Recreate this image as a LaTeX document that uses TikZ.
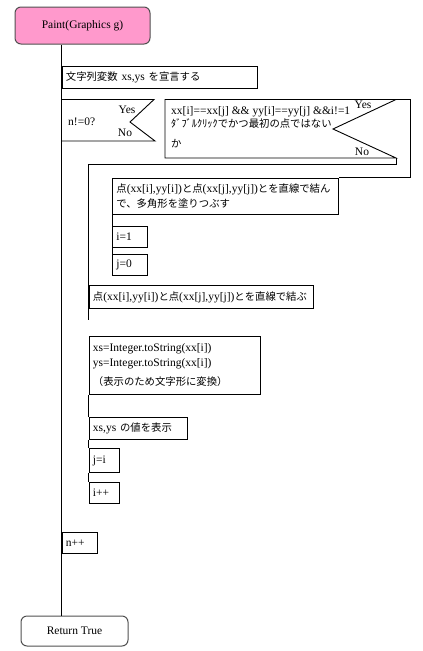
\documentclass[tikz,border=0pt]{standalone}
\usepackage{fontspec}
\setmainfont{Liberation Serif}
\newfontfamily\jp[Scale=0.9]{Noto Sans CJK JP}
\usepackage{tikz}
\definecolor{startpink}{HTML}{FF99CC}
\definecolor{edgegray}{HTML}{505050}

\begin{document}
\begin{tikzpicture}[x=1pt,y=-1pt,font=\fontsize{11.5}{15}\selectfont]
  \tikzstyle{StartStyle}=[draw=edgegray,fill=startpink,rounded corners=6pt,line width=1pt]
  \tikzstyle{EndStyle}=[draw=edgegray,rounded corners=6pt,line width=1pt]
  \tikzstyle{BoxStyle}=[draw,anchor=north west,inner xsep=4pt,inner ysep=0pt,align=left,line width=0.9pt]
  \tikzstyle{LabelStyle}=[inner sep=0pt]
  \tikzstyle{EdgeStyle}=[line width=0.9pt]
  \useasboundingbox (0,0) rectangle (423,651);
  % start and end
  \node[StartStyle,minimum width=135pt,minimum height=37pt] (start) at (82.5,25.5) {Paint(Graphics g)};
  \node[EndStyle,minimum width=107pt,minimum height=30pt] (ret) at (74.5,631) {Return True};
  \coordinate (spine) at (61.5,0);
  \draw[EdgeStyle] (spine |- start.south) -- (spine |- ret.north);
  \node[BoxStyle,text width=187pt,minimum height=22pt] (decl) at (61.5,66) {{\jp 文字列変数} xs,ys {\jp を宣言する}};
  % n!=0?
  \draw[EdgeStyle] (61.5,99.5) -- (154,99.5) -- (130,122) -- (155,141) -- (61.5,141);
  \node[LabelStyle,anchor=west] (cond1) at (68,122) {n!=0?};
  \node[LabelStyle] (yes1) at (127,110) {Yes};
  \node[LabelStyle] (no1) at (125,133) {No};
  % double click test
  \draw[EdgeStyle] (165,99.5) -- (396,99.5) -- (333,129) -- (396,158) -- (165,158) -- cycle;
  \node[LabelStyle,anchor=north west,align=left] (cond2) at (171,106) {xx[i]==xx[j] \&\& yy[i]==yy[j] \&\&i!=1\\[-2pt]{\jp ﾀﾞﾌﾞﾙｸﾘｯｸでかつ最初の点ではない}\\[5pt]{\jp か}};
  \node[LabelStyle] (yes2) at (363,105) {Yes};
  \node[LabelStyle] (no2) at (362,152) {No};
  \draw[EdgeStyle] (396,158) -- (396,164) -- (88.5,164) -- (88.5,320);
  % yes branch
  \node[BoxStyle,text width=218pt,minimum height=36pt] (fill) at (112,177.5) {{\jp 点}(xx[i],yy[i]){\jp と点}(xx[j],yy[j]){\jp とを直線で結ん}\\{\jp で、多角形を塗りつぶす}};
  \draw[EdgeStyle] (396,99.5) -- (410,99.5) -- (410,177.5) -- (fill.north east);
  \node[BoxStyle,text width=27pt,minimum height=21pt] (iset) at (112,226) {i=1};
  \node[BoxStyle,text width=27pt,minimum height=21pt] (jset) at (112,254) {j=0};
  \draw[EdgeStyle] (fill.south west) -- (iset.north west);
  \draw[EdgeStyle] (iset.south west) -- (jset.north west);
  \node[BoxStyle,text width=216pt,minimum height=23pt] (line) at (88.5,285) {{\jp 点}(xx[i],yy[i]){\jp と点}(xx[j],yy[j]){\jp とを直線で結ぶ}};
  % show values
  \node[BoxStyle,text width=163pt,minimum height=58pt] (conv) at (88.5,336) {xs=Integer.toString(xx[i])\\ys=Integer.toString(xx[i])\\[4pt]{\jp （表示のため文字形に変換）}};
  \node[BoxStyle,text width=90pt,minimum height=22pt] (show) at (88.5,417) {xs,ys {\jp の値を表示}};
  \node[BoxStyle,text width=22pt,minimum height=24pt] (jnext) at (88.5,448) {j=i};
  \node[BoxStyle,text width=22pt,minimum height=21pt] (inext) at (88.5,482) {i++};
  \draw[EdgeStyle] (conv.south west) -- (show.north west);
  \draw[EdgeStyle] (show.south west) -- (jnext.north west);
  \draw[EdgeStyle] (jnext.south west) -- (inext.north west);
  \node[BoxStyle,text width=27pt,minimum height=21pt] (nnext) at (61.5,532) {n++};
\end{tikzpicture}
\end{document}
